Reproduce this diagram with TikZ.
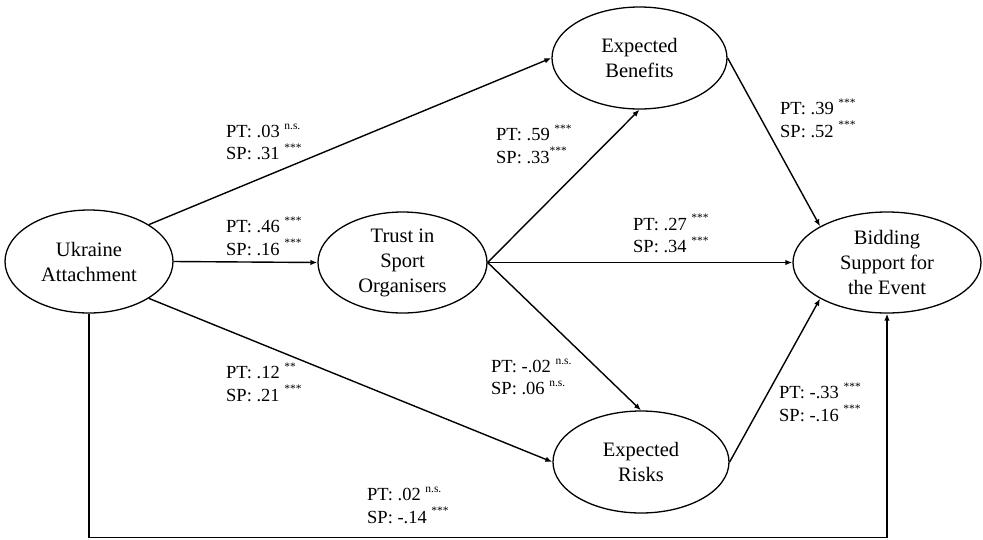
\documentclass[tikz,border=0pt]{standalone}
\usepackage{fontspec}
\setmainfont{Liberation Serif}
\usepackage{tikz}
\usetikzlibrary{shapes, arrows.meta, positioning, calc}
\newcommand{\sig}[1]{\raisebox{0.45em}{\fontsize{11.5}{10}\selectfont #1}}

\begin{document}
\begin{tikzpicture}[x=1pt,y=-1pt,
				latent/.style={draw,ellipse,line width=1.3pt,inner sep=-2pt,align=center,
					font=\fontsize{20.5}{25}\selectfont},
				coef/.style={anchor=west,align=left,inner sep=0pt,
					font=\fontsize{18.5}{22.5}\selectfont},
				path/.style={line width=1.4pt,-{Latex[length=7pt,width=5.5pt]}}]
				\useasboundingbox (0,0) rectangle (983,539);
				\node[latent,minimum width=168pt,minimum height=103pt] (ukr) at (89,261.5) {Ukraine\\Attachment};
				\node[latent,minimum width=169pt,minimum height=101pt] (trust) at (402.5,262.5) {Trust in\\Sport\\Organisers};
				\node[latent,minimum width=175pt,minimum height=102pt] (ben) at (639.5,58) {Expected\\Benefits};
				\node[latent,minimum width=176pt,minimum height=102pt] (risk) at (641,462) {Expected\\Risks};
				\node[latent,minimum width=188pt,minimum height=101pt] (bid) at (887,262.5) {Bidding\\Support for\\the Event};
				\coordinate (base) at (0,537.5);

				\draw[path] (ukr.north east) -- (ben.west);
				\draw[path] (ukr.east) -- (trust.west);
				\draw[path] (ukr.south east) -- (risk.west);
				\draw[path] (ukr.south) -- (ukr.south |- base) -| (bid.south);
				\draw[path] (trust.east) -- (ben.south);
				\draw[path] (trust.east) -- (bid.west);
				\draw[path] (trust.east) -- (risk.north);
				\draw[path] (ben.east) -- (bid.north west);
				\draw[path] (risk.east) -- (bid.south west);

				\node[coef] (c1) at (226,142) {PT: .03 \sig{n.s.}\\SP: .31 \sig{***}};
				\node[coef] (c2) at (226,236) {PT: .46 \sig{***}\\SP: .16 \sig{***}};
				\node[coef] (c3) at (496,144) {PT: .59 \sig{***}\\SP: .33\sig{***}};
				\node[coef] (c4) at (633,233.5) {PT: .27 \sig{***}\\SP: .34 \sig{***}};
				\node[coef] (c5) at (226,382) {PT: .12 \sig{**}\\SP: .21 \sig{***}};
				\node[coef] (c6) at (491,377) {PT: -.02 \sig{n.s.}\\SP: .06 \sig{n.s.}};
				\node[coef] (c7) at (780,118) {PT: .39 \sig{***}\\SP: .52 \sig{***}};
				\node[coef] (c8) at (779,402) {PT: -.33 \sig{***}\\SP: -.16 \sig{***}};
				\node[coef] (c9) at (367,505) {PT: .02 \sig{n.s.}\\SP: -.14 \sig{***}};
			\end{tikzpicture}
\end{document}
